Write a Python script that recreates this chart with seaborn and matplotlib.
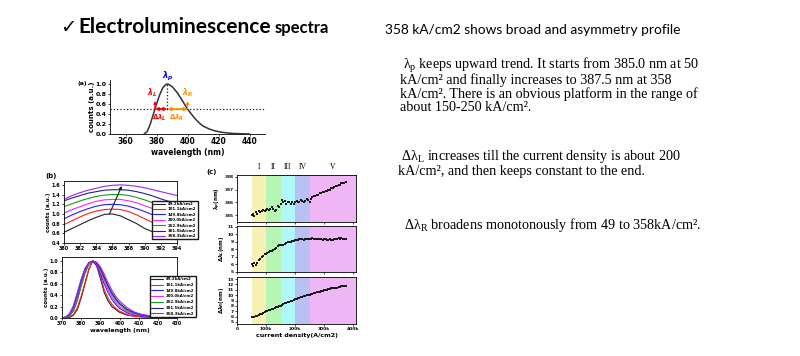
import numpy as np
import pandas as pd
import matplotlib
matplotlib.use('Agg')
import matplotlib.pyplot as plt
import matplotlib.transforms as mtransforms
from matplotlib.ticker import FuncFormatter
import seaborn as sns

# ---- data ----
# (a) single EL spectrum
wl_a = [372, 374, 376, 378, 380, 382, 384, 386, 387, 388, 390, 392, 394, 396, 398, 400,
        402, 404, 406, 408, 410, 414, 418, 422, 426, 430, 435, 440]
el_a = [0.0, 0.05, 0.2, 0.4, 0.6, 0.78, 0.92, 0.99, 1.0, 0.99, 0.95, 0.88, 0.8, 0.7, 0.6, 0.5,
        0.42, 0.34, 0.27, 0.21, 0.16, 0.1, 0.06, 0.035, 0.02, 0.01, 0.005, 0.0]
lam_p, lam_L, lam_R = 387, 379, 400

# (b) legend labels / colours
densities = ['49.2kA/cm2', '101.1kA/cm2', '149.8kA/cm2', '200.0kA/cm2',
             '252.9kA/cm2', '301.5kA/cm2', '358.3kA/cm2']
colors = ['#222222', '#ff2020', '#2020ff', '#ff20ff', '#10a010', '#202090', '#a020ff']

# (b) top: offset spectra, 380-394 nm
wl_b1 = [380, 381, 382, 383, 384, 385, 386, 387, 388, 389, 390, 391, 392, 393, 394]
off_b1 = [
    [0.62, 0.70, 0.78, 0.86, 0.93, 0.99, 1.00, 0.96, 0.88, 0.80, 0.70, 0.63, 0.57, 0.52, 0.48],
    [0.78, 0.86, 0.94, 1.01, 1.06, 1.09, 1.10, 1.09, 1.05, 0.98, 0.90, 0.82, 0.75, 0.68, 0.62],
    [0.90, 0.98, 1.05, 1.11, 1.16, 1.19, 1.20, 1.19, 1.16, 1.11, 1.05, 0.98, 0.91, 0.84, 0.78],
    [1.02, 1.09, 1.15, 1.21, 1.26, 1.29, 1.30, 1.30, 1.27, 1.23, 1.17, 1.11, 1.04, 0.98, 0.92],
    [1.15, 1.21, 1.27, 1.32, 1.36, 1.39, 1.40, 1.40, 1.38, 1.34, 1.29, 1.23, 1.17, 1.11, 1.05],
    [1.27, 1.33, 1.38, 1.43, 1.46, 1.49, 1.50, 1.50, 1.49, 1.46, 1.42, 1.37, 1.31, 1.26, 1.20],
    [1.30, 1.38, 1.44, 1.49, 1.53, 1.57, 1.59, 1.60, 1.59, 1.57, 1.54, 1.50, 1.46, 1.42, 1.38],
]
shift_start = (385.5, 0.95)
shift_end = (387.3, 1.63)

# (b) bottom: normalised spectra
wl_b2 = [370, 372, 374, 376, 378, 380, 382, 384, 386, 388, 390, 392, 394, 396, 398, 400,
         404, 408, 412, 416, 420, 425, 430]
norm_b2 = [
    [0, 0, 0.01, 0.05, 0.15, 0.35, 0.6, 0.85, 1.0, 0.93, 0.7, 0.45, 0.3, 0.2, 0.15, 0.1, 0.05, 0.03, 0.02, 0.01, 0, 0, 0],
    [0, 0, 0.02, 0.06, 0.18, 0.38, 0.62, 0.86, 1.0, 0.95, 0.75, 0.5, 0.35, 0.24, 0.17, 0.12, 0.06, 0.03, 0.02, 0.01, 0, 0, 0],
    [0, 0.01, 0.05, 0.15, 0.35, 0.6, 0.82, 0.97, 0.99, 0.92, 0.78, 0.6, 0.45, 0.33, 0.24, 0.17, 0.09, 0.05, 0.03, 0.02, 0.01, 0, 0],
    [0, 0.01, 0.05, 0.14, 0.33, 0.58, 0.8, 0.95, 1.0, 0.95, 0.82, 0.66, 0.5, 0.38, 0.28, 0.2, 0.11, 0.06, 0.04, 0.02, 0.01, 0, 0],
    [0, 0.01, 0.04, 0.12, 0.3, 0.55, 0.78, 0.94, 1.0, 0.97, 0.86, 0.7, 0.55, 0.42, 0.32, 0.24, 0.13, 0.08, 0.05, 0.03, 0.02, 0.01, 0],
    [0, 0.02, 0.07, 0.2, 0.42, 0.66, 0.86, 0.97, 1.0, 0.97, 0.87, 0.72, 0.57, 0.44, 0.34, 0.26, 0.15, 0.09, 0.05, 0.03, 0.02, 0.01, 0],
    [0, 0.02, 0.08, 0.22, 0.45, 0.68, 0.87, 0.97, 1.0, 0.98, 0.9, 0.77, 0.62, 0.49, 0.38, 0.3, 0.18, 0.1, 0.06, 0.04, 0.02, 0.01, 0],
]

# (c) peak position and widths vs current density (kA/cm2)
cd_k = [50, 55, 60, 65, 70, 75, 80, 85, 90, 95, 100, 105, 110, 115, 120, 125, 130, 135, 140, 145,
        150, 155, 160, 165, 170, 175, 180, 185, 190, 195, 200, 205, 210, 215, 220, 225, 230, 235,
        240, 245, 250, 255, 260, 265, 270, 275, 280, 285, 290, 295, 300, 305, 310, 315, 320, 325,
        330, 335, 340, 345, 350, 355, 360, 365, 370, 375]
lam_peak = [385.0, 385.1, 384.9, 385.2, 385.1, 385.3, 385.2, 385.3, 385.4, 385.3, 385.4, 385.5,
            385.4, 385.5, 385.6, 385.5, 385.3, 385.4, 385.7, 385.6, 385.9, 386.2, 386.0, 386.1,
            385.9, 386.0, 386.0, 385.9, 386.0, 385.9, 386.0, 386.1, 386.0, 386.0, 386.2, 386.1,
            386.0, 386.1, 386.3, 386.2, 386.0, 386.3, 386.4, 386.5, 386.5, 386.6, 386.6, 386.7,
            386.7, 386.8, 386.8, 386.9, 386.9, 387.0, 387.0, 387.1, 387.1, 387.2, 387.3, 387.3,
            387.4, 387.4, 387.5, 387.5, 387.55, 387.6]
dlam_L = [6.0, 5.8, 6.1, 5.9, 6.2, 6.5, 6.7, 6.9, 7.1, 7.3, 7.4, 7.5, 7.6, 7.7, 7.8, 7.9, 8.0,
          8.2, 8.4, 8.5, 8.5, 8.6, 8.6, 8.7, 8.8, 8.9, 8.9, 9.0, 9.1, 9.1, 9.2, 9.2, 9.2, 9.3,
          9.3, 9.3, 9.2, 9.3, 9.3, 9.4, 9.3, 9.3, 9.5, 9.3, 9.4, 9.3, 9.3, 9.4, 9.3, 9.2, 9.3,
          9.3, 9.2, 9.2, 9.3, 9.2, 9.2, 9.3, 9.4, 9.3, 9.5, 9.4, 9.5, 9.4, 9.3, 9.4]
dlam_R = [6.0, 5.9, 6.0, 6.1, 6.1, 6.2, 6.4, 6.5, 6.7, 6.8, 7.0, 7.1, 7.2, 7.3, 7.4, 7.5, 7.6,
          7.7, 7.8, 7.9, 8.0, 8.2, 8.3, 8.5, 8.6, 8.7, 8.8, 8.9, 9.0, 9.1, 9.2, 9.3, 9.4, 9.5,
          9.6, 9.7, 9.8, 9.9, 10.0, 10.0, 10.1, 10.2, 10.3, 10.4, 10.4, 10.5, 10.6, 10.6, 10.7,
          10.8, 10.9, 10.9, 11.0, 11.1, 11.2, 11.3, 11.3, 11.3, 11.4, 11.4, 11.5, 11.6, 11.7,
          11.7, 11.8, 11.8]
band_edges = [50000, 100000, 150000, 200000, 250000, 410000]
band_names = ['I', 'II', 'III', 'IV', 'V']
band_colors = ['#f7f2b4', '#b6f5b4', '#b0f7f7', '#b8c0f5', '#eeb6f5']

sns.set_theme(style='ticks')
plt.rcParams['font.family'] = ['DejaVu Sans']
plt.rcParams['font.weight'] = 'bold'
plt.rcParams['axes.labelweight'] = 'bold'
plt.rcParams['axes.linewidth'] = 0.6
for key in ['text.color', 'axes.labelcolor', 'xtick.color', 'ytick.color', 'axes.edgecolor']:
    plt.rcParams[key] = 'black'

fig = plt.figure(figsize=(8, 3.56), dpi=100)
W, H = 800, 356


def fax(l, t, r, b):
    return fig.add_axes([l / W, 1 - b / H, (r - l) / W, (b - t) / H])


def small_ticks(ax, size=4):
    ax.tick_params(labelsize=size, length=1.5, width=0.5, pad=1)


# ---- (a) ----
ax_a = fax(110, 80, 265, 134)
sns.lineplot(x=wl_a, y=el_a, ax=ax_a, color='#333333', lw=1.1)
ax_a.axhline(0.5, ls=':', color='k', lw=0.9)
ax_a.plot([lam_p, lam_p], [0.5, 1.0], ls=':', color='k', lw=0.9)
ax_a.annotate('', xy=(lam_L, 0.5), xytext=(lam_p, 0.5),
              arrowprops=dict(arrowstyle='<|-|>', color='red', lw=1.3, mutation_scale=4, shrinkA=0, shrinkB=0))
ax_a.annotate('', xy=(lam_R, 0.5), xytext=(lam_p, 0.5),
              arrowprops=dict(arrowstyle='<|-|>', color='#ff8c00', lw=1.3, mutation_scale=4, shrinkA=0, shrinkB=0))
ax_a.annotate('', xy=(lam_L, 0.66), xytext=(lam_L, 0.5),
              arrowprops=dict(arrowstyle='-|>', color='red', lw=0.8, mutation_scale=4, shrinkA=0, shrinkB=0))
ax_a.annotate('', xy=(lam_R, 0.66), xytext=(lam_R, 0.5),
              arrowprops=dict(arrowstyle='-|>', color='#ff8c00', lw=0.8, mutation_scale=4, shrinkA=0, shrinkB=0))
ax_a.text(lam_p, 1.02, r'$\lambda_p$', color='blue', ha='center', va='bottom', fontsize=6)
ax_a.text(lam_L - 2, 0.7, r'$\lambda_L$', color='red', ha='center', va='bottom', fontsize=5.5)
ax_a.text(lam_R, 0.7, r'$\lambda_R$', color='#ff8c00', ha='center', va='bottom', fontsize=5.5)
ax_a.text(lam_L + 3, 0.42, r'$\Delta\lambda_L$', color='red', ha='center', va='top', fontsize=5)
ax_a.text(lam_p + 6, 0.42, r'$\Delta\lambda_R$', color='#ff8c00', ha='center', va='top', fontsize=5)
ax_a.set_xlim(350, 450)
ax_a.set_ylim(0, 1.08)
ax_a.set_xticks([360, 380, 400, 420, 440])
ax_a.set_yticks([0, 0.2, 0.4, 0.6, 0.8, 1.0])
ax_a.yaxis.set_major_formatter(FuncFormatter(lambda v, p: f'{v:.1f}'))
small_ticks(ax_a, 4.5)
ax_a.tick_params(axis='x', labelsize=5.5)
ax_a.set_xlabel('wavelength (nm)', fontsize=5.5, labelpad=1)
ax_a.set_ylabel('counts (a.u.)', fontsize=5, labelpad=0.5)
sns.despine(ax=ax_a)
fig.text(77 / W, 1 - 84 / H, '(a)', fontsize=4.5, va='center')

# ---- (b) top ----
rows = []
for name, vals in zip(densities, off_b1):
    for w, v in zip(wl_b1, vals):
        rows.append((w, v, name))
df_b1 = pd.DataFrame(rows, columns=['wl', 'counts', 'J'])
ax_b1 = fax(64, 181, 177, 243)
sns.lineplot(data=df_b1, x='wl', y='counts', hue='J', hue_order=densities,
             palette=colors, ax=ax_b1, lw=0.8)
ax_b1.annotate('', xy=shift_end, xytext=shift_start,
               arrowprops=dict(arrowstyle='-|>', color='k', lw=0.8, mutation_scale=4))
ax_b1.set_xlim(380, 394)
ax_b1.set_ylim(0.4, 1.68)
ax_b1.set_xticks(range(380, 395, 2))
ax_b1.set_yticks([0.4, 0.6, 0.8, 1.0, 1.2, 1.4, 1.6])
ax_b1.yaxis.set_major_formatter(FuncFormatter(lambda v, p: f'{v:.1f}'))
small_ticks(ax_b1, 3.5)
ax_b1.set_xlabel('')
ax_b1.set_ylabel('counts (a.u.)', fontsize=4, labelpad=1)
ax_b1.legend(loc='upper left', bbox_to_anchor=(150 / W, 1 - 199 / H), bbox_transform=fig.transFigure,
             fontsize=2.8, handlelength=3, frameon=True, edgecolor='k', fancybox=False,
             borderpad=0.3, labelspacing=0.35, framealpha=1)
fig.text(45 / W, 1 - 176 / H, '(b)', fontsize=5, va='center')

# ---- (b) bottom ----
rows = []
for name, vals in zip(densities, norm_b2):
    for w, v in zip(wl_b2, vals):
        rows.append((w, v, name))
df_b2 = pd.DataFrame(rows, columns=['wl', 'counts', 'J'])
ax_b2 = fax(62, 257, 177, 318)
sns.lineplot(data=df_b2, x='wl', y='counts', hue='J', hue_order=densities,
             palette=colors, ax=ax_b2, lw=0.8)
ax_b2.set_xlim(370, 430)
ax_b2.set_ylim(0, 1.07)
ax_b2.set_xticks(range(370, 431, 10))
ax_b2.set_yticks([0, 0.2, 0.4, 0.6, 0.8, 1.0])
ax_b2.yaxis.set_major_formatter(FuncFormatter(lambda v, p: f'{v:.1f}'))
small_ticks(ax_b2, 3.5)
ax_b2.set_xlabel('wavelength (nm)', fontsize=4.5, labelpad=1)
ax_b2.set_ylabel('counts (a.u.)', fontsize=4, labelpad=1)
ax_b2.legend(loc='upper left', bbox_to_anchor=(148 / W, 1 - 274 / H), bbox_transform=fig.transFigure,
             fontsize=2.8, handlelength=3, frameon=True, edgecolor='k', fancybox=False,
             borderpad=0.3, labelspacing=0.45, framealpha=1)

# ---- (c) ----
cd = [c * 1000 for c in cd_k]
ax_c1 = fax(237, 175, 356, 222)
ax_c2 = fax(237, 226, 356, 272)
ax_c3 = fax(237, 277, 356, 324)
series = [(ax_c1, lam_peak, (384.45, 388.15), [385, 386, 387, 388], r'$\lambda_p$(nm)'),
          (ax_c2, dlam_L, (4.95, 11.1), list(range(5, 12)), r'$\Delta\lambda_L$(nm)'),
          (ax_c3, dlam_R, (4.6, 13.4), list(range(5, 14)), r'$\Delta\lambda_R$(nm)')]
for ax, vals, ylim, yt, lab in series:
    for lo, hi, c in zip(band_edges[:-1], band_edges[1:], band_colors):
        ax.axvspan(lo, hi, color=c, lw=0)
    sns.scatterplot(x=cd, y=vals, ax=ax, marker='s', s=3, color='k', linewidth=0)
    ax.set_xlim(0, 410000)
    ax.set_ylim(*ylim)
    ax.set_yticks(yt)
    ax.set_xticks([0, 100000, 200000, 300000, 400000])
    ax.xaxis.set_major_formatter(FuncFormatter(lambda v, p: '0' if v == 0 else f'{int(v / 1000)}k'))
    small_ticks(ax, 3.2)
    ax.set_ylabel(lab, fontsize=4, labelpad=1)
ax_c1.tick_params(labelbottom=False)
ax_c2.tick_params(labelbottom=False)
ax_c3.set_xlabel('current density(A/cm2)', fontsize=4.5, labelpad=1)
tr = mtransforms.blended_transform_factory(ax_c1.transData, fig.transFigure)
for lo, hi, nm in zip(band_edges[:-1], band_edges[1:], band_names):
    ax_c1.text((lo + hi) / 2, 1 - 167 / H, nm, transform=tr, ha='center', va='center',
               fontsize=5.5, family='Liberation Serif', weight='normal')
fig.text(206 / W, 1 - 172 / H, '(c)', fontsize=5, va='center')

# ---- slide text ----
fig.text(60 / W, 1 - 33 / H, '\u2713', fontsize=14, va='baseline', family='DejaVu Sans', weight='normal')
fig.text(78 / W, 1 - 33 / H, 'Electroluminescence', fontsize=15, va='baseline', family='Lato', weight='bold')
fig.text(275 / W, 1 - 33 / H, 'spectra', fontsize=12, va='baseline', family='Lato', weight='bold')
fig.text(385 / W, 1 - 30 / H, '358 kA/cm2 shows broad and asymmetry profile', fontsize=9.9,
         va='center', family='Lato', weight='normal')

para1 = [r'λ$_\mathregular{p}$ keeps upward trend. It starts from 385.0 nm at 50',
         'kA/cm² and finally increases to 387.5 nm at 358',
         'kA/cm². There is an obvious platform in the range of',
         'about 150-250 kA/cm².']
para2 = [r'Δλ$_\mathregular{L}$ increases till the current density is about 200',
         'kA/cm², and then keeps constant to the end.']
para3 = [r'Δλ$_\mathregular{R}$ broadens monotonously from 49 to 358kA/cm².']
# baselines in pixels; first line (with the subscript) is lifted a little
for lines, x0, y0 in [(para1, 400, 71), (para2, 398, 162), (para3, 404, 231)]:
    for i, line in enumerate(lines):
        first = i == 0
        x = x0 + (3 if first and x0 < 404 else 0)
        y = y0 + 13.3 * i - (2.5 if first else 0)
        fig.text(x / W, 1 - y / H, line, fontsize=10.2, va='baseline',
                 family='Liberation Serif', weight='normal')

fig.savefig('out.png', dpi=100)
